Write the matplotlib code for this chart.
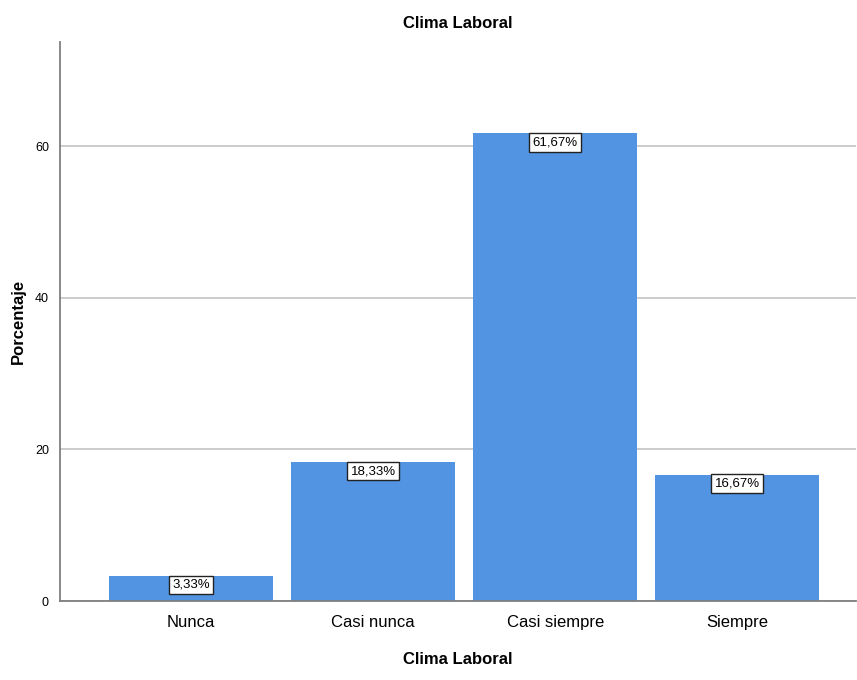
import matplotlib
matplotlib.use("Agg")
import matplotlib.pyplot as plt

categories = ["Nunca", "Casi nunca", "Casi siempre", "Siempre"]
percentages = [3.33, 18.33, 61.67, 16.67]
labels = ["3,33%", "18,33%", "61,67%", "16,67%"]
y_ticks = [0, 20, 40, 60]

plt.rcParams["font.family"] = ["Liberation Sans", "DejaVu Sans"]

fig = plt.figure(figsize=(8.57, 6.8), dpi=100)
ax = fig.add_axes([0.070, 0.116, 0.929, 0.822])

x = list(range(len(categories)))
ax.bar(x, percentages, width=0.9, color="#5294E2", zorder=2)

# value boxes sit just under the top of each bar
for xi, v, lab in zip(x, percentages, labels):
    ax.text(xi, v - 0.4, lab, ha="center", va="top", fontsize=9.5, zorder=3,
            bbox=dict(boxstyle="square,pad=0.25", fc="white", ec="#222222", lw=1))

ax.set_xlim(-0.719, 3.653)
ax.set_ylim(0, 73.7)
ax.set_yticks(y_ticks)
ax.set_xticks(x)
ax.set_xticklabels(categories, fontsize=12)
ax.tick_params(axis="y", labelsize=9, length=0, pad=8)
ax.tick_params(axis="x", length=0, pad=10)
ax.yaxis.grid(True, color="#c8c8c8", lw=1.3, zorder=0)
ax.set_axisbelow(True)

for s in ["top", "right"]:
    ax.spines[s].set_visible(False)
for s in ["left", "bottom"]:
    ax.spines[s].set_color("#7f7f7f")
    ax.spines[s].set_linewidth(1.3)

ax.set_title("Clima Laboral", fontsize=12, fontweight="bold", pad=10)
ax.set_xlabel("Clima Laboral", fontsize=12, fontweight="bold", labelpad=16)
ax.set_ylabel("Porcentaje", fontsize=12, fontweight="bold")
ax.yaxis.set_label_coords(-0.043, 0.5)

fig.savefig("out.png", dpi=100)
